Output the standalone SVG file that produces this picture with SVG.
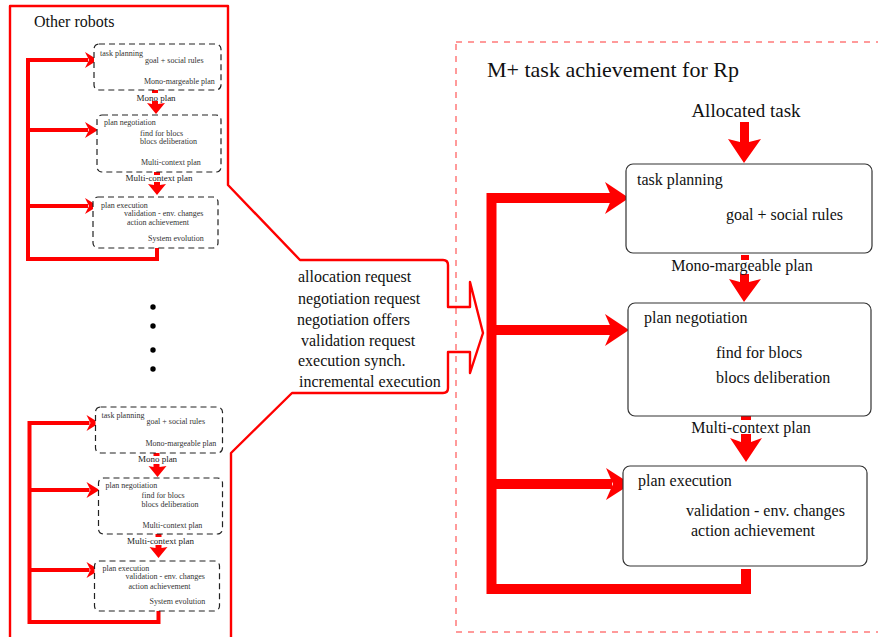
<svg xmlns="http://www.w3.org/2000/svg" width="878" height="637" viewBox="0 0 878 637">
  <style>
    text { font-family: "Liberation Serif", "Times New Roman", serif; fill: #111; }
    .mini { font-size: 8px; fill: #333; }
    .mini-lbl { font-size: 9px; fill: #222; }
    .big { font-size: 16px; }
    .mid { text-anchor: middle; }
    .dash-box { fill: #fff; stroke: #222; stroke-width: 1.2; stroke-dasharray: 6 4; }
    .box { fill: #fff; stroke: #333; stroke-width: 1.2; }
    .red { fill: #ff0000; stroke: none; }
    .loop-thin { fill: none; stroke: #ff0000; stroke-width: 4; stroke-linejoin: miter; }
    .loop-thick { fill: none; stroke: #ff0000; stroke-width: 10; stroke-linejoin: miter; }
    .frame { fill: none; stroke: #ff0000; stroke-width: 2.4; stroke-linejoin: round; }
    .region { fill: none; stroke: #ff7a7a; stroke-width: 1.5; stroke-dasharray: 6 6; }
  </style>

  <!-- Region of the robot Rp -->
  <rect id="rp-region" class="region" x="456" y="42" width="440" height="590"/>

  <!-- Frame around the other robots, with the message callout -->
  <path id="other-robots-frame" class="frame"
        d="M10,637 V6 H228 V185 L300,260 H443 Q448,260 448,265 V307 H470 V282 L483,333 L470,373 V352 H448 V388 Q448,393 443,393 H292 L231,453 V637"/>
  <text x="34" y="27" style="font-size:16px">Other robots</text>

  <g id="messages" class="big">
    <text x="298" y="282">allocation request</text>
    <text x="298" y="304">negotiation request</text>
    <text x="297" y="325">negotiation offers</text>
    <text x="301" y="346">validation request</text>
    <text x="298" y="366">execution synch.</text>
    <text x="299" y="387">incremental execution</text>
  </g>

  <!-- Ellipsis between the robot diagrams -->
  <g id="ellipsis" fill="#000">
    <circle cx="153" cy="307" r="2.7"/>
    <circle cx="153" cy="326" r="2.7"/>
    <circle cx="153" cy="350" r="2.7"/>
    <circle cx="153" cy="369" r="2.7"/>
  </g>

  <!-- Upper other robot -->
  <g id="robot-a">
    <g id="robot-a-connectors">
      <path class="loop-thin" d="M157,248 V259 H28 V60 H88 M28,130 H88 M28,206 H88"/>
      <polygon class="red" points="85,52 98,60 85,68 89,60"/>
      <polygon class="red" points="85,122 98,130 85,138 89,130"/>
      <polygon class="red" points="85,198 98,206 85,214 89,206"/>
      <rect class="red" x="152" y="90" width="6" height="3"/>
      <polygon class="red" points="152,101 158,101 158,104 165,103 156,114 147,103 152,104"/>
      <rect class="red" x="154" y="172" width="6" height="3"/>
      <polygon class="red" points="154,182 160,182 160,185 166,184 157,195 148,184 154,185"/>
      <text class="mini-lbl mid" x="156" y="101">Mono plan</text>
      <text class="mini-lbl mid" x="159" y="181">Multi-context plan</text>
    </g>
    <g id="robot-a-task-planning">
      <rect class="dash-box" x="94" y="44" width="127" height="46" rx="5"/>
      <text class="mini" x="100" y="56">task planning</text>
      <text class="mini" x="145" y="63">goal + social rules</text>
      <text class="mini" x="144" y="84">Mono-margeable plan</text>
    </g>
    <g id="robot-a-plan-negotiation">
      <rect class="dash-box" x="97" y="115" width="124" height="57" rx="5"/>
      <text class="mini" x="104" y="125">plan negotiation</text>
      <text class="mini" x="140" y="136">find for blocs</text>
      <text class="mini" x="140" y="144">blocs deliberation</text>
      <text class="mini" x="141" y="165">Multi-context plan</text>
    </g>
    <g id="robot-a-plan-execution">
      <rect class="dash-box" x="93" y="197" width="125" height="51" rx="5"/>
      <text class="mini" x="101" y="208">plan execution</text>
      <text class="mini" x="124" y="216">validation - env. changes</text>
      <text class="mini" x="127" y="225">action achievement</text>
      <text class="mini" x="148" y="241">System evolution</text>
    </g>
  </g>

  <!-- Lower other robot -->
  <g id="robot-b" transform="translate(1.5 363)">
    <g id="robot-b-connectors">
      <path class="loop-thin" d="M157,248 V259 H28 V60 H88 M28,127 H88 M28,207 H88"/>
      <polygon class="red" points="85,52 98,60 85,68 89,60"/>
      <polygon class="red" points="85,119 98,127 85,135 89,127"/>
      <polygon class="red" points="85,199 98,207 85,215 89,207"/>
      <rect class="red" x="152" y="90" width="6" height="3"/>
      <polygon class="red" points="152,101 158,101 158,104 165,103 156,114 147,103 152,104"/>
      <rect class="red" x="154" y="171" width="6" height="3"/>
      <polygon class="red" points="154,182 160,182 160,185 166,184 157,195 148,184 154,185"/>
      <text class="mini-lbl mid" x="156" y="99">Mono plan</text>
      <text class="mini-lbl mid" x="159" y="181">Multi-context plan</text>
    </g>
    <g id="robot-b-task-planning">
      <rect class="dash-box" x="94" y="44" width="127" height="46" rx="5"/>
      <text class="mini" x="100" y="55">task planning</text>
      <text class="mini" x="145" y="61">goal + social rules</text>
      <text class="mini" x="144" y="83">Mono-margeable plan</text>
    </g>
    <g id="robot-b-plan-negotiation">
      <rect class="dash-box" x="97" y="115" width="124" height="56" rx="5"/>
      <text class="mini" x="104" y="125">plan negotiation</text>
      <text class="mini" x="140" y="135">find for blocs</text>
      <text class="mini" x="140" y="144">blocs deliberation</text>
      <text class="mini" x="141" y="165">Multi-context plan</text>
    </g>
    <g id="robot-b-plan-execution">
      <rect class="dash-box" x="93" y="198" width="125" height="50" rx="5"/>
      <text class="mini" x="101" y="208">plan execution</text>
      <text class="mini" x="124" y="216">validation - env. changes</text>
      <text class="mini" x="127" y="226">action achievement</text>
      <text class="mini" x="148" y="241">System evolution</text>
    </g>
  </g>

  <!-- Robot Rp -->
  <text x="487" y="77" style="font-size:22px">M+ task achievement for Rp</text>
  <text class="mid" x="746" y="117" style="font-size:19px">Allocated task</text>

  <g id="rp-connectors">
    <!-- allocated task input -->
    <rect class="red" x="740" y="122" width="9" height="20"/>
    <polygon class="red" points="728,139 740,142 749,142 761,139 744,163"/>
    <!-- mono-margeable plan -->
    <rect class="red" x="741" y="255" width="8" height="5"/>
    <rect class="red" x="740" y="274" width="9" height="8"/>
    <polygon class="red" points="729,279 740,282 749,282 761,279 744,302"/>
    <text class="big mid" x="742" y="271">Mono-margeable plan</text>
    <!-- multi-context plan -->
    <rect class="red" x="741" y="413" width="10" height="7"/>
    <rect class="red" x="741" y="434" width="10" height="8"/>
    <polygon class="red" points="730,438 741,442 751,442 762,438 746,462"/>
    <text class="big mid" x="751" y="433">Multi-context plan</text>
    <!-- system evolution feedback loop -->
    <path class="loop-thick" d="M746,569 V589 H491.5 V198 H612 M491.5,330 H612 M491.5,484 H612"/>
    <polygon class="red" points="605,182 629,198 605,214 612,198"/>
    <polygon class="red" points="605,314 629,330 605,346 612,330"/>
    <polygon class="red" points="606,468 631,484 606,500 613,484"/>
  </g>

  <g id="rp-task-planning">
    <rect class="box" x="626" y="164" width="246" height="89" rx="7"/>
    <text class="big" x="637" y="185">task planning</text>
    <text class="big" x="726" y="220">goal + social rules</text>
  </g>
  <g id="rp-plan-negotiation">
    <rect class="box" x="628" y="303" width="243" height="113" rx="7"/>
    <text class="big" x="644" y="323">plan negotiation</text>
    <text class="big" x="716" y="358">find for blocs</text>
    <text class="big" x="716" y="383">blocs deliberation</text>
  </g>
  <g id="rp-plan-execution">
    <rect class="box" x="623" y="466" width="244" height="100" rx="7"/>
    <text class="big" x="638" y="486">plan execution</text>
    <text class="big" x="686" y="516">validation - env. changes</text>
    <text class="big" x="691" y="536">action achievement</text>
  </g>
</svg>
